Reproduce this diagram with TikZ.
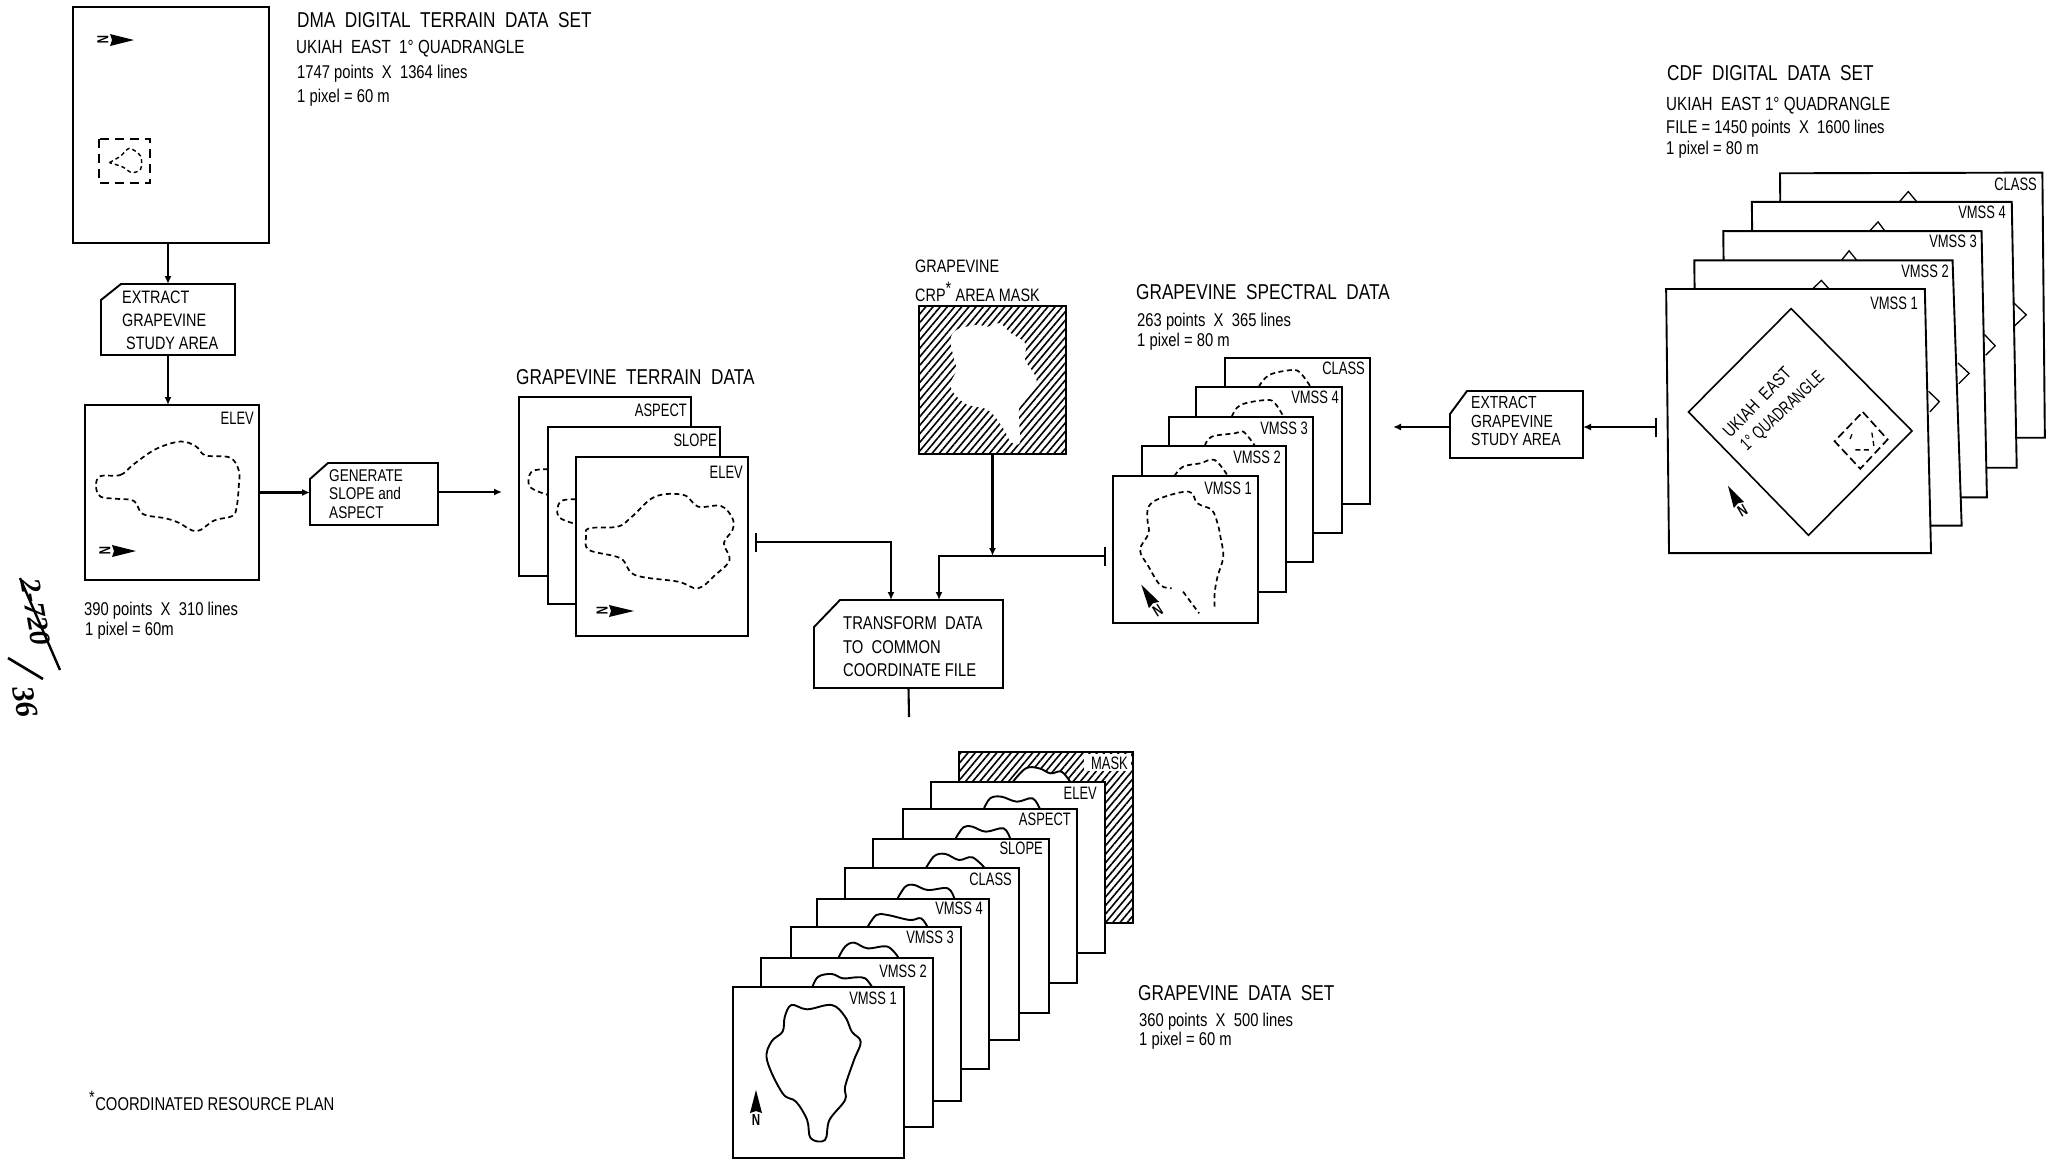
\documentclass[tikz,border=0pt]{standalone}
\usepackage{fontspec}
\setmainfont{Liberation Sans}[FakeStretch=0.72]
\newfontfamily\widefont{Liberation Sans}[FakeStretch=0.80]
\newfontfamily\handfont{Liberation Serif}
\usetikzlibrary{arrows.meta,patterns.meta,calc,shapes.geometric}
\tikzset{
  cropA/.style={x=.4464pt,y=-.4337pt},
  cropB/.style={shift={(500,260)},x=.574pt,y=-.3333pt},
  cropC/.style={shift={(1400,40)},x=.4139pt,y=-.3444pt},
  cropD/.style={shift={(700,730)},x=.4464pt,y=-.3333pt},
  cardbox/.style={draw=black,fill=white,line width=1.9pt,inner sep=0pt,outer sep=0pt},
  hatched/.style={pattern={Lines[angle=50,distance=5.5pt,line width=1.6pt]},pattern color=black},
  ttl/.style={anchor=west,inner sep=0pt,font=\widefont\fontsize{21.5}{21.5}\selectfont},
  sub/.style={anchor=west,inner sep=0pt,font=\widefont\fontsize{19}{19}\selectfont},
  sml/.style={anchor=west,inner sep=0pt,font=\widefont\fontsize{18.5}{18.5}\selectfont},
  lab/.style={anchor=east,inner sep=0pt,font=\fontsize{18}{18}\selectfont},
  ptxt/.style={anchor=west,inner sep=0pt,align=left,font=\widefont\fontsize{18}{23}\selectfont},
  dashline/.style={line width=1.7pt,dash pattern=on 5pt off 3.5pt},
  solidline/.style={line width=1.9pt},
  conn/.style={line width=2.1pt},
  arr/.style={conn,-{Latex[length=8pt,width=7pt]}},
  bararr/.style={conn,{Bar[width=19pt,line width=1.8pt]}-{Latex[length=8pt,width=7pt]}},
}
\newcommand\card[6][]{%
  \pgfmathsetmacro\myw{#5-#3}\pgfmathsetmacro\myh{#6-#4}%
  \node[cardbox,minimum width=\myw pt,minimum height=\myh pt,#1] (#2) at ({(#3+#5)/2},{(#4+#6)/2}) {};%
}
\newcommand\labl[4]{\node[lab] (#1) at (#2,#3) {#4};}
\newcommand\procbox[7]{%
  \pgfmathsetmacro\myw{#4-#2}\pgfmathsetmacro\myh{#5-#3}%
  \node[inner sep=0pt,outer sep=0pt,minimum width=\myw pt,minimum height=\myh pt] (#1) at ({(#2+#4)/2},{(#3+#5)/2}) {};%
  \draw[cardbox] ([xshift=#6pt]#1.north west) -- (#1.north east) -- (#1.south east) -- (#1.south west) -- ([yshift=-#7pt]#1.north west) -- cycle;%
}
\newcommand\northarrow[5]{%
  \begin{scope}[shift={(#2,#3)},rotate=#4]
    \fill (#5,0) -- (0,6) -- (2,0) -- (0,-6) -- cycle;
    \pgfmathsetmacro\myr{#4-90}
    \node[inner sep=0pt,rotate=\myr,font=\bfseries\fontsize{16}{16}\selectfont] (#1) at (-7,0) {N};
  \end{scope}%
}
\begin{document}
\begin{tikzpicture}[x=1pt,y=-1pt]
\useasboundingbox (0,0) rectangle (2049,1162);
\fill[white] (0,0) rectangle (2049,1162);

% ---------- DMA ----------
\card{dma}{73}{7}{269}{243}
\northarrow{dman}{110}{40}{0}{24}
\draw[dashline,dash pattern=on 9pt off 6pt] (99,139) rectangle (150,183);
\begin{scope}[cropA]
  \draw[dashline,line width=1.4pt,dash pattern=on 4pt off 3pt] plot[smooth] coordinates {(245,375)(270,360)(290,342)(315,360)(315,390)(295,398)(275,385)(245,375)};
\end{scope}
\node[ttl] (t1) at (297,20) {DMA\ \ DIGITAL\ \ TERRAIN\ \ DATA\ \ SET};
\node[sub] (t2) at (296,49) {UKIAH\ \ EAST\ \ 1° QUADRANGLE};
\node[sml] (t3) at (297,74) {1747 points\ \ X\ \ 1364 lines};
\node[sml] (t4) at (297,98) {1 pixel = 60 m};

\procbox{ext}{101}{284}{235}{355}{20}{16}
\node[ptxt] (extt) at (122,320) {EXTRACT\\GRAPEVINE\\\ STUDY AREA};
\draw[arr] (ext.north |- dma.south) -- (ext.north);

\card{elev}{85}{405}{259}{580}
\labl{elevl}{254}{418}{ELEV}
\begin{scope}[cropA]
  \draw[dashline] plot[smooth cycle,tension=.6] coordinates {(225,1098)(270,1095)(300,1070)(350,1035)(405,1018)(440,1030)(460,1050)(515,1055)(535,1085)(535,1120)(530,1170)(520,1190)(480,1200)(440,1225)(400,1205)(370,1195)(320,1185)(300,1155)(260,1150)(225,1145)(215,1120)};
\end{scope}
\northarrow{elevn}{112}{551}{0}{24}
\draw[arr] (ext.south) -- (ext.south |- elev.north);
\node[sml] (e1) at (84,611) {390 points\ \ X\ \ 310 lines};
\node[sml] (e2) at (85,631) {1 pixel = 60m};

\procbox{gen}{310}{463}{438}{525}{18}{16}
\node[ptxt,font=\widefont\fontsize{17}{18.5}\selectfont] (gent) at (329,494) {GENERATE\\SLOPE and\\ASPECT};
\draw[arr] (elev.east) -- (elev.east -| gen.west);
\coordinate (genout) at (502,492);
\draw[arr] (gen.east |- genout) -- (genout);

% ---------- Terrain ----------
\node[ttl] (t5) at (516,377) {GRAPEVINE\ \ TERRAIN\ \ DATA};
\card{taspect}{519}{397}{691}{576}
\labl{taspectl}{687}{410}{ASPECT}
\card{tslope}{548}{427}{720}{604}
\labl{tslopel}{717}{440}{SLOPE}
\begin{scope}[cropB]
  \draw[dashline] plot[smooth,tension=.6] coordinates {(84,628)(55,635)(52,680)(84,705)};
\end{scope}
\card{telev}{576}{457}{748}{636}
\labl{televl}{743}{472}{ELEV}
\begin{scope}[cropB]
  \draw[dashline] plot[smooth,tension=.6] coordinates {(132,718)(105,725)(102,770)(132,792)};
  \draw[dashline] plot[smooth cycle,tension=.6] coordinates {(155,805)(205,800)(230,770)(270,710)(320,705)(345,740)(385,738)(405,775)(405,810)(390,850)(400,900)(375,945)(345,985)(310,965)(235,945)(210,895)(155,870)(150,830)};
\end{scope}
\northarrow{televn}{609}{611}{0}{25}

% ---------- Mask ----------
\node[inner sep=0pt,anchor=west,font=\widefont\fontsize{18}{18}\selectfont] (t6) at (915,266) {GRAPEVINE};
\node[inner sep=0pt,anchor=west,font=\widefont\fontsize{18}{18}\selectfont] (t7) at (915,292) {CRP\textsuperscript{\fontsize{18}{18}\selectfont *} AREA MASK};
\card[hatched]{mask}{919}{306}{1066}{454}
\begin{scope}[cropB]
  \fill[white] plot[smooth cycle,tension=.6] coordinates {(795,210)(830,195)(850,200)(870,190)(890,220)(915,250)(915,300)(930,340)(935,365)(925,400)(905,440)(905,500)(905,550)(890,545)(875,500)(850,450)(810,430)(785,380)(795,330)(790,290)(785,240)};
\end{scope}

% ---------- Spectral ----------
\node[ttl] (t8) at (1136,292) {GRAPEVINE\ \ SPECTRAL\ \ DATA};
\node[sml] (t9) at (1137,322) {263 points\ \ X\ \ 365 lines};
\node[sml] (t10) at (1137,342) {1 pixel = 80 m};
\card{sclass}{1225}{358}{1370}{504}
\labl{sclassl}{1365}{368}{CLASS}
\begin{scope}[cropB]
  \draw[dashline] plot[smooth,tension=.6] coordinates {(1322,380)(1340,345)(1380,330)(1395,340)(1412,380)};
\end{scope}
\card{sv4}{1196}{387}{1342}{533}
\labl{sv4l}{1339}{397}{VMSS 4}
\begin{scope}[cropB]
  \draw[dashline] plot[smooth,tension=.6] coordinates {(1275,470)(1290,435)(1335,420)(1350,430)(1365,470)};
\end{scope}
\card{sv3}{1169}{417}{1313}{562}
\labl{sv3l}{1308}{428}{VMSS 3}
\begin{scope}[cropB]
  \draw[dashline] plot[smooth,tension=.6] coordinates {(1228,557)(1240,530)(1280,520)(1295,515)(1315,557)};
\end{scope}
\card{sv2}{1142}{446}{1286}{592}
\labl{sv2l}{1281}{457}{VMSS 2}
\begin{scope}[cropB]
  \draw[dashline] plot[smooth,tension=.6] coordinates {(1175,648)(1190,620)(1220,610)(1245,600)(1268,648)};
\end{scope}
\card{sv1}{1113}{476}{1258}{623}
\labl{sv1l}{1252}{488}{VMSS 1}
\begin{scope}[cropB]
  \draw[dashline] plot[smooth,tension=.6] coordinates {(1245,1040)(1245,1000)(1250,950)(1260,890)(1255,830)(1250,790)(1240,750)(1215,730)(1200,695)(1150,715)(1130,740)(1128,780)(1130,820)(1115,870)(1130,920)(1150,975)(1170,985)};
  \draw[dashline] plot[smooth,tension=.6] coordinates {(1190,995)(1205,1030)(1218,1060)};
\end{scope}
\northarrow{sv1n}{1154}{605}{122}{24}

% ---------- Transform ----------
\procbox{trans}{814}{600}{1003}{688}{26}{27}
\node[ptxt,font=\widefont\fontsize{18.5}{23.5}\selectfont] (transt) at (843,647) {TRANSFORM\ \ DATA\\TO\ \ COMMON\\COORDINATE FILE};
\coordinate (tb) at (755,542);
\coordinate (tin1) at (891,600);
\draw[bararr] (tb) -| (tin1);
\coordinate (sb) at (1106,556);
\coordinate (tin2) at (939,600);
\draw[bararr] (sb) -| (tin2);
\draw[arr] (mask.south) -- (mask.south |- sb);
\coordinate (tout) at (909,717);
\draw[conn] (trans.south) -- (tout);

% ---------- CDF stack ----------
\node[ttl] (t11) at (1667,73) {CDF\ \ DIGITAL\ \ DATA\ \ SET};
\node[sub] (t12) at (1666,106) {UKIAH\ \ EAST 1° QUADRANGLE};
\node[sml] (t13) at (1666,129) {FILE = 1450 points\ \ X\ \ 1600 lines};
\node[sml] (t14) at (1666,150) {1 pixel = 80 m};
\begin{scope}[cropC]
  \draw[cardbox] (918,387) -- (1552,385) -- (1558,1155) -- (925,1155) -- cycle;
  \draw[line width=1.3pt] (1205,472) -- (1228,440) -- (1250,472);
  \draw[line width=1.3pt] (1480,760) -- (1513,798) -- (1483,832);
  \draw[cardbox] (850,470) -- (1478,470) -- (1490,1242) -- (857,1242) -- cycle;
  \draw[line width=1.3pt] (1133,557) -- (1155,528) -- (1173,557);
  \draw[line width=1.3pt] (1412,855) -- (1438,888) -- (1415,915);
  \draw[cardbox] (781,555) -- (1405,555) -- (1418,1328) -- (788,1328) -- cycle;
  \draw[line width=1.3pt] (1065,642) -- (1085,612) -- (1105,642);
  \draw[line width=1.3pt] (1348,938) -- (1375,968) -- (1350,998);
  \draw[cardbox] (711,640) -- (1335,640) -- (1357,1410) -- (718,1410) -- cycle;
  \draw[line width=1.3pt] (995,725) -- (1018,698) -- (1038,725);
  \draw[line width=1.3pt] (1277,1020) -- (1303,1050) -- (1280,1080);
  \draw[cardbox] (643,723) -- (1268,723) -- (1283,1490) -- (650,1490) -- cycle;
  \draw[line width=1.6pt] (945,780) -- (1237,1135) -- (987,1438) -- (697,1080) -- cycle;
  \draw[dashline,dash pattern=on 8pt off 4pt] (1118,1080) -- (1178,1160) -- (1112,1245) -- (1050,1165) -- cycle;
  \draw[dashline,line width=1.3pt] (1092,1145) -- (1085,1165) (1140,1140) -- (1145,1180) (1100,1190) -- (1135,1190);
\end{scope}
\labl{cclass}{2037}{184}{CLASS}
\labl{cv4}{2006}{212}{VMSS 4}
\labl{cv3}{1977}{241}{VMSS 3}
\labl{cv2}{1949}{271}{VMSS 2}
\labl{cv1}{1918}{303}{VMSS 1}
\node[inner sep=0pt,rotate=46,font=\widefont\fontsize{18}{18}\selectfont] (q1) at (1757,402) {UKIAH\ \ EAST};
\node[inner sep=0pt,rotate=43,font=\fontsize{18}{18}\selectfont] (q2) at (1783,412) {1° QUADRANGLE};
\northarrow{cn}{1739}{505}{120}{22}

\procbox{cxt}{1450}{391}{1583}{458}{17}{23}
\node[ptxt,font=\widefont\fontsize{17.5}{18.5}\selectfont] (cxtt) at (1471,421) {EXTRACT\\GRAPEVINE\\STUDY AREA};
\coordinate (cb) at (1657,427);
\draw[bararr] (cb) -- (cb -| cxt.east);
\coordinate (sa) at (1393,427);
\draw[arr] (cb -| cxt.west) -- (sa);

% ---------- Grapevine data set ----------
\card[hatched]{gmask}{959}{752}{1133}{923}
\node[fill=white,inner sep=0pt,minimum width=47pt,minimum height=17pt,anchor=north east] (gmaskw) at (1131,754) {};
\labl{gmaskl}{1128}{763}{MASK}
\begin{scope}[cropD]
  \fill[white] plot[smooth,tension=.6] coordinates {(700,157)(730,115)(760,115)(785,130)(810,125)(830,157)} -- cycle;
  \draw[solidline] plot[smooth,tension=.6] coordinates {(700,157)(730,115)(760,115)(785,130)(810,125)(830,157)};
\end{scope}
\card{gelev}{931}{782}{1105}{953}
\labl{gelevl}{1097}{793}{ELEV}
\begin{scope}[cropD]
  \draw[solidline] plot[smooth,tension=.6] coordinates {(635,239)(650,205)(675,200)(710,215)(745,205)(762,239)};
\end{scope}
\card{gaspect}{903}{809}{1077}{983}
\labl{gaspectl}{1071}{819}{ASPECT}
\begin{scope}[cropD]
  \draw[solidline] plot[smooth,tension=.6] coordinates {(572,327)(590,292)(610,290)(640,305)(680,295)(695,327)};
\end{scope}
\card{gslope}{873}{839}{1049}{1013}
\labl{gslopel}{1043}{848}{SLOPE}
\begin{scope}[cropD]
  \draw[solidline] plot[smooth,tension=.6] coordinates {(505,417)(525,378)(550,372)(580,390)(610,382)(640,417)};
\end{scope}
\card{gclass}{845}{868}{1019}{1040}
\labl{gclassl}{1012}{879}{CLASS}
\begin{scope}[cropD]
  \draw[solidline] plot[smooth,tension=.6] coordinates {(442,507)(460,470)(480,465)(510,480)(555,475)(570,507)};
\end{scope}
\card{gv4}{817}{899}{989}{1069}
\labl{gv4l}{983}{908}{VMSS 4}
\begin{scope}[cropD]
  \draw[solidline] plot[smooth,tension=.6] coordinates {(375,592)(395,555)(420,555)(470,570)(495,565)(510,592)};
\end{scope}
\card{gv3}{791}{927}{961}{1101}
\labl{gv3l}{954}{937}{VMSS 3}
\begin{scope}[cropD]
  \draw[solidline] plot[smooth,tension=.6] coordinates {(310,684)(325,650)(345,638)(375,655)(420,650)(445,684)};
\end{scope}
\card{gv2}{761}{958}{933}{1127}
\labl{gv2l}{927}{971}{VMSS 2}
\begin{scope}[cropD]
  \draw[solidline] plot[smooth,tension=.6] coordinates {(252,770)(265,740)(295,732)(320,745)(350,742)(370,745)(385,770)};
\end{scope}
\card{gv1}{733}{987}{904}{1158}
\labl{gv1l}{897}{998}{VMSS 1}
\begin{scope}[cropD]
  \draw[solidline] plot[smooth cycle,tension=.6] coordinates {(190,860)(205,825)(240,838)(295,825)(325,860)(340,905)(360,935)(345,990)(325,1070)(325,1110)(290,1170)(280,1230)(248,1225)(240,1170)(215,1115)(185,1090)(150,990)(160,935)(185,905)};
\end{scope}
\northarrow{gn}{756}{1113}{90}{23}
\node[ttl] (t15) at (1138,993) {GRAPEVINE\ \ DATA\ \ SET};
\node[sml] (t16) at (1139,1022) {360 points\ \ X\ \ 500 lines};
\node[sml] (t17) at (1139,1041) {1 pixel = 60 m};

% ---------- Footnote ----------
\node[sml] (fn) at (89,1101) {\textsuperscript{\fontsize{18}{18}\selectfont *}COORDINATED RESOURCE PLAN};

% ---------- Handwriting ----------
\node[inner sep=0pt,rotate=-80,font=\handfont\bfseries\itshape\fontsize{29}{29}\selectfont] (h1) at (36,612) {2-720};
\draw[line width=2.4pt] (20,578) -- (60,670);
\draw[line width=2.6pt] (8,658) -- (43,679);
\node[inner sep=0pt,rotate=-80,font=\handfont\bfseries\itshape\fontsize{31}{31}\selectfont] (h2) at (25,702) {36};
\end{tikzpicture}
\end{document}
